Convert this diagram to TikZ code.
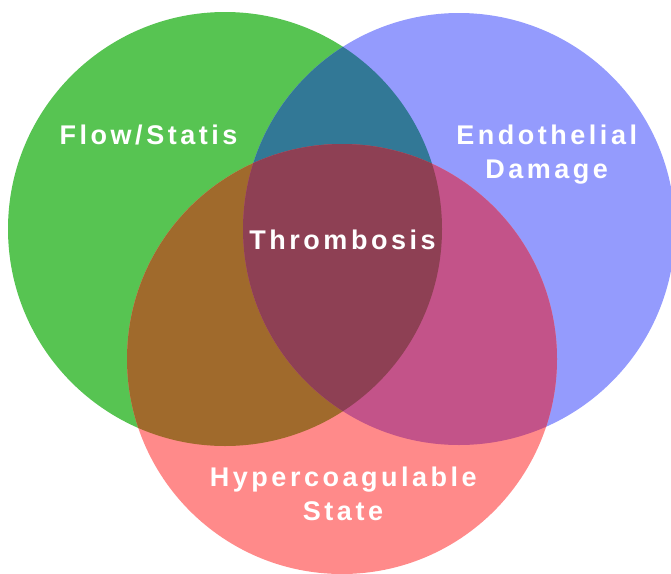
\documentclass[tikz,border=0pt]{standalone}
\usepackage{fontspec}
\setmainfont{Liberation Sans}
\newfontfamily\lblfont{Liberation Sans Bold}[LetterSpace=13]
\definecolor{cgreen}{HTML}{57C452}
\definecolor{cblue}{HTML}{949BFD}
\definecolor{cred}{HTML}{FF8A8A}
\definecolor{cgb}{HTML}{327896}
\definecolor{cgr}{HTML}{A06A2C}
\definecolor{cbr}{HTML}{C35389}
\definecolor{cgbr}{HTML}{8E4054}
\begin{document}
\begin{tikzpicture}[x=1pt,y=-1pt,
  lbl/.style={text=white,font=\lblfont\fontsize{27}{34}\selectfont,inner sep=0pt,anchor=base}]
\useasboundingbox (0,0) rectangle (671,573);
\clip (0,0) rectangle (671,573);
\def\cG{(225,229) circle[radius=217]}
\def\cB{(459,229) circle[radius=216]}
\def\cR{(342,359) circle[radius=215]}
\fill[cgreen] \cG;
\fill[cblue] \cB;
\fill[cred] \cR;
\begin{scope}\clip \cG; \fill[cgb] \cB; \fill[cgr] \cR; \end{scope}
\begin{scope}\clip \cB; \fill[cbr] \cR; \end{scope}
\begin{scope}\clip \cG; \clip \cB; \fill[cgbr] \cR; \end{scope}
\node[lbl] (flow) at (148.5,144.5) {Flow/Statis};
\node[lbl] (endo1) at (546.7,144.3) {Endothelial};
\node[lbl] (endo2) at (546.7,178.3) {Damage};
\node[lbl] (thromb) at (342.5,249) {Thrombosis};
\node[lbl] (hyper1) at (343.3,486.7) {Hypercoagulable};
\node[lbl] (hyper2) at (343,520) {State};
\end{tikzpicture}
\end{document}
